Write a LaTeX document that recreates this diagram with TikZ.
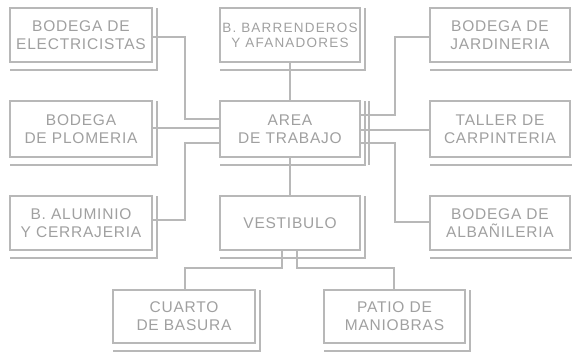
\documentclass[tikz,border=0pt]{standalone}
\usepackage{fontspec}
\setmainfont{Liberation Sans}[LetterSpace=5]
\definecolor{ln}{RGB}{184,184,184}
\definecolor{tx}{RGB}{160,160,160}
\begin{document}
\begin{tikzpicture}[x=1pt,y=-1pt,
  bx/.style={draw=ln,line width=2.9pt,inner sep=0pt,outer sep=0pt,text=tx,align=center,
    font=\fontsize{15.5}{18}\selectfont},
  smallbx/.style={bx,font=\addfontfeatures{LetterSpace=9}\fontsize{13.5}{15}\selectfont},
  shd/.style={draw=ln,line width=2.9pt},
  cn/.style={draw=ln,line width=2.9pt}]
\useasboundingbox (0,0) rectangle (572,351);
% boxes
\node[bx,minimum width=142,minimum height=54] (elec) at (81,35) {BODEGA DE\\ELECTRICISTAS};
\node[smallbx,minimum width=140,minimum height=54] (barr) at (290,35) {B. BARRENDEROS\\Y AFANADORES};
\node[bx,minimum width=140,minimum height=54] (jard) at (500,35) {BODEGA DE\\JARDINERIA};
\node[bx,minimum width=142,minimum height=56] (plom) at (81,129) {BODEGA\\DE PLOMERIA};
\node[bx,minimum width=140,minimum height=56] (area) at (290,129) {AREA\\DE TRABAJO};
\node[bx,minimum width=140,minimum height=56] (carp) at (500,129) {TALLER DE\\CARPINTERIA};
\node[bx,minimum width=142,minimum height=54] (alum) at (81,223) {B. ALUMINIO\\Y CERRAJERIA};
\node[bx,minimum width=140,minimum height=54] (vest) at (290,223) {VESTIBULO};
\node[bx,minimum width=140,minimum height=54] (alba) at (500,223) {BODEGA DE\\ALBAÑILERIA};
\node[bx,minimum width=142,minimum height=53] (cuar) at (184,316.5) {CUARTO\\DE BASURA};
\node[bx,minimum width=141,minimum height=53] (pati) at (394.5,316.5) {PATIO DE\\MANIOBRAS};
% shadows
\foreach \n in {elec,barr,jard,plom,area,carp,alum,vest,alba,cuar,pati}{
  \draw[shd] ([yshift=-8pt]\n.south west) -| ([xshift=5pt]\n.north east);
}
\draw[shd] ([xshift=9pt]area.north east) -- ([xshift=9pt,yshift=-8pt]area.south east);
% connectors
\draw[cn] (elec.east |- 0,37) -| (185,119) -- (area.west |- 0,119);
\draw[cn] (plom.east |- 0,128) -- (area.west |- 0,128);
\draw[cn] (alum.east |- 0,220) -| (185,143) -- (area.west |- 0,143);
\draw[cn] (barr.south) -- (area.north);
\draw[cn] (area.south) -- (vest.north);
\draw[cn] (area.east |- 0,115) -| (395,37) -- (jard.west |- 0,37);
\draw[cn] (area.east |- 0,130) -- (carp.west |- 0,130);
\draw[cn] (area.east |- 0,143) -| (395,222) -- (alba.west |- 0,222);
\draw[cn] (vest.south -| 282,0) |- (185,268) -- (cuar.north -| 185,0);
\draw[cn] (vest.south -| 297,0) |- (394,268) -- (pati.north -| 394,0);
\end{tikzpicture}
\end{document}
